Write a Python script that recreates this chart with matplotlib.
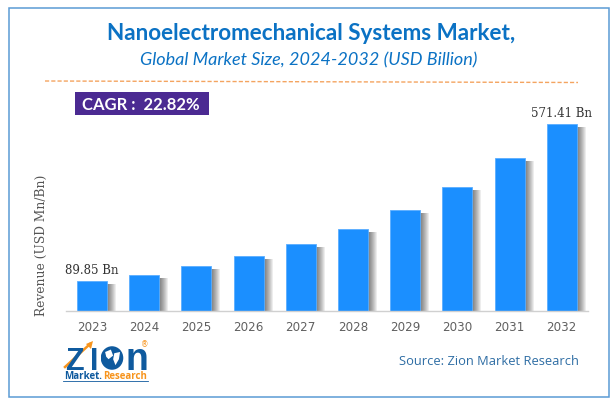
import matplotlib
matplotlib.use("Agg")
import matplotlib.pyplot as plt
import matplotlib.patheffects as pe
from matplotlib.patches import Rectangle, Circle, Polygon

years = ["2023", "2024", "2025", "2026", "2027", "2028", "2029", "2030", "2031", "2032"]
revenue = [89.85, 110, 135, 166, 204, 250, 308, 378, 465, 571.41]
first_label = "89.85 Bn"
last_label = "571.41 Bn"

W, H = 616, 406
BLUE = "#1b8fff"


def fx(px):
    return px / W


def fy(py):
    return 1 - py / H


fig = plt.figure(figsize=(W / 100, H / 100), dpi=100)
fig.patch.set_facecolor("white")

# outer frame
fig.add_artist(Rectangle((fx(8.5), fy(397.5)), 600 / W, 389 / H, transform=fig.transFigure,
                         fill=False, ec="#5b9bd5", lw=1.1))

ax = fig.add_axes([fx(66), fy(311.5), 522 / W, 201 / H])
ax.set_xlim(-26 / 52.2, 496 / 52.2)
ax.set_ylim(0, 201 * 3.056)
ax.patch.set_alpha(0)

# soft shadow: a stack of offset copies, clipped at the baseline
shadow = [pe.SimplePatchShadow(offset=(k * 0.72, -2.2), shadow_rgbFace="#000000", alpha=0.07)
          for k in (9, 8, 7, 6, 5, 4, 3, 2, 1)]
bars = ax.bar(range(len(years)), revenue, width=30 / 52.2, color=BLUE, edgecolor="#5aaeff", linewidth=0.6)
for b in bars:
    b.set_path_effects(shadow + [pe.Normal()])

ax.set_xticks(range(len(years)))
ax.set_xticklabels(years, fontsize=8.6, color="#606060", family="DejaVu Sans")
ax.tick_params(axis="x", length=0, pad=7)
ax.set_yticks([])
for s in ["top", "left", "right"]:
    ax.spines[s].set_visible(False)
ax.spines["bottom"].set_color("#d0d0d0")
ax.spines["bottom"].set_linewidth(1)

ax.annotate(first_label, (0, revenue[0]), xytext=(0, 3.5), textcoords="offset points", ha="center",
            va="bottom", fontsize=8.5, family="DejaVu Serif", color="#333333")
ax.annotate(last_label, (9, revenue[-1]), xytext=(0, 3.5), textcoords="offset points", ha="center",
            va="bottom", fontsize=8.5, family="DejaVu Serif", color="#333333")

fig.text(fx(41), fy(245), "Revenue (USD Mn/Bn)", rotation=90, ha="center", va="center",
         fontsize=8.8, family="DejaVu Serif", color="#555555")

# heading
fig.text(fx(311), fy(33), "Nanoelectromechanical Systems Market,", ha="center", va="center",
         fontsize=16.2, fontweight="bold", family="Lato", color="#0b72c4")
fig.text(fx(308.5), fy(60), "Global Market Size, 2024-2032 (USD Billion)", ha="center", va="center",
         fontsize=13, style="italic", family="Lato", color="#0b72c4")
fig.add_artist(plt.Line2D([fx(45), fx(578)], [fy(82), fy(83.5)], transform=fig.transFigure,
                          color="#f4a460", lw=1, dashes=(3, 1.5)))

# CAGR box
fig.add_artist(Rectangle((fx(75), fy(116)), 134 / W, 23 / H, transform=fig.transFigure,
                         fc="#4b2a92", ec="none"))
fig.text(fx(141), fy(105), "CAGR :  22.82%", ha="center", va="center", fontsize=12,
         fontweight="bold", family="Lato", color="white")

fig.text(fx(489), fy(362), "Source: Zion Market Research", ha="center", va="center",
         fontsize=9.3, family="Open Sans", color="#2e6da4")

# logo
NAVY = "#0f5a9e"
ORANGE = "#f7941d"
fig.text(fx(65), fy(370.5), "Z", ha="left", va="baseline", fontsize=22, fontweight="bold",
         family="Liberation Sans", color=NAVY)
fig.text(fx(90), fy(370.5), "I", ha="left", va="baseline", fontsize=22, fontweight="bold",
         family="Liberation Sans", color=NAVY)
fig.text(fx(125), fy(370.5), "n", ha="left", va="baseline", fontsize=27, fontweight="bold",
         family="Liberation Sans", color=NAVY)
lg = fig.add_axes([fx(100.5), fy(371), 23 / W, 24 / H])
lg.axis("off")
lg.set_xlim(-1, 1)
lg.set_ylim(-1, 1)
lg.add_patch(Circle((0, 0), 0.98, fc=NAVY, ec="none"))
lg.add_patch(Polygon([(-0.6, 0.5), (-0.1, 0.7), (0.1, 0.2), (-0.3, -0.1), (-0.5, 0.1)], fc="white", ec="none"))
lg.add_patch(Polygon([(0.2, 0.4), (0.7, 0.5), (0.6, -0.1), (0.3, -0.6), (0.1, -0.1)], fc="white", ec="none"))
fig.add_artist(plt.Line2D([fx(65), fx(90)], [fy(368), fy(345)], transform=fig.transFigure,
                          color=ORANGE, lw=1.8))
fig.add_artist(Polygon([(fx(93), fy(342)), (fx(86), fy(345)), (fx(91), fy(350))], transform=fig.transFigure,
                       fc=ORANGE, ec="none"))
fig.text(fx(145), fy(345), "®", ha="center", va="center", fontsize=5.5, color=ORANGE)
fig.text(fx(64), fy(377), "Market.", ha="left", va="center", fontsize=7, fontweight="bold",
         family="Open Sans", color=NAVY)
fig.text(fx(103), fy(377), "Research", ha="left", va="center", fontsize=7, fontweight="bold",
         family="Open Sans", color=ORANGE)
fig.add_artist(plt.Line2D([fx(63), fx(148)], [fy(382), fy(382)], transform=fig.transFigure,
                          color=NAVY, lw=0.6))

fig.savefig("out.png", dpi=100)
